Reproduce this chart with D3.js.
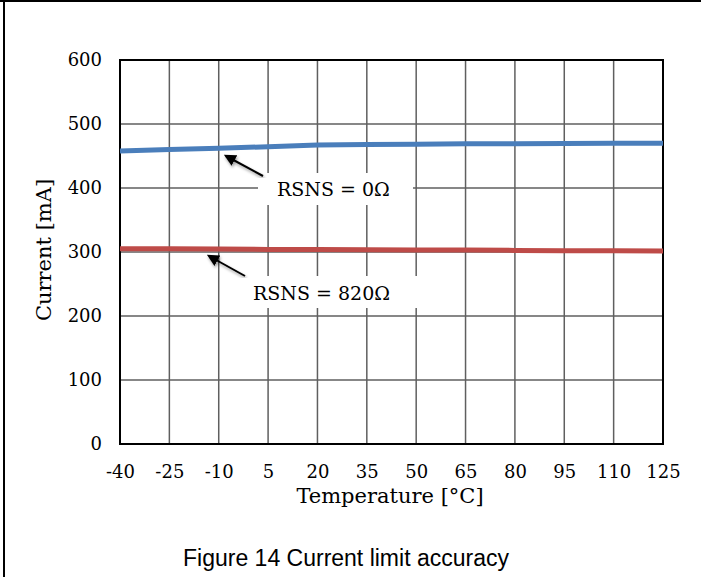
<!DOCTYPE html>
<html>
<head>
<meta charset="utf-8">
<script src="https://cdn.jsdelivr.net/npm/d3@7"></script>
<style>
    body { margin: 0; background: #fff; }
    svg { display: block; }
</style>
</head>
<body>
<div id="myChart"></div>
<script>
const temps = [-40, -25, -10, 5, 20, 35, 50, 65, 80, 95, 110, 125];
const rsns0 = [458, 460, 462, 464.5, 467, 468, 468.5, 469, 469, 469.5, 470, 470];
const rsns820 = [305, 305, 304.5, 304, 304, 303.5, 303, 303, 302.5, 302, 302, 301.5];
const yTicks = [0, 100, 200, 300, 400, 500, 600];
const notes = ["RSNS = 0\u03A9", "RSNS = 820\u03A9"];

const size = {
    width: 701,
    height: 577,
    plot: { left: 120, right: 663, top: 60, bottom: 444 }
};

const serif = "'DejaVu Serif', 'Liberation Serif', serif";

const drawChart = function(size) {
    const svg = d3.select("#myChart")
        .append("svg")
        .attr("width", size.width)
        .attr("height", size.height);

    // frame of the figure cell (top and left only)
    svg.append("line").attr("x1", 0).attr("x2", size.width).attr("y1", 1).attr("y2", 1)
        .attr("stroke", "#000").attr("stroke-width", 2);
    svg.append("line").attr("x1", 4).attr("x2", 4).attr("y1", 0).attr("y2", size.height)
        .attr("stroke", "#000").attr("stroke-width", 2);

    const x = d3.scaleLinear().domain([-40, 125]).range([size.plot.left, size.plot.right]);
    const y = d3.scaleLinear().domain([0, 600]).range([size.plot.bottom, size.plot.top]);

    // gridlines
    svg.append("g")
        .selectAll("line")
        .data(temps)
        .enter().append("line")
        .attr("x1", d => x(d)).attr("x2", d => x(d))
        .attr("y1", size.plot.top).attr("y2", size.plot.bottom)
        .attr("stroke", "#5f5f5f").attr("stroke-width", 1.5);
    svg.append("g")
        .selectAll("line")
        .data(yTicks)
        .enter().append("line")
        .attr("x1", size.plot.left).attr("x2", size.plot.right)
        .attr("y1", d => y(d)).attr("y2", d => y(d))
        .attr("stroke", "#5f5f5f").attr("stroke-width", 1.5);

    // tick labels
    const xAxis = svg.append("g")
        .attr("transform", `translate(0, ${size.plot.bottom})`)
        .call(d3.axisBottom(x).tickValues(temps).tickSize(0).tickPadding(21)
            .tickFormat(d => String(d)));
    const yAxis = svg.append("g")
        .attr("transform", `translate(${size.plot.left}, 0)`)
        .call(d3.axisLeft(y).tickValues(yTicks).tickSize(0).tickPadding(18)
            .tickFormat(d => String(d)));
    [xAxis, yAxis].forEach(a => {
        a.select(".domain").remove();
        a.attr("font-family", serif).attr("font-size", 18);
        a.selectAll("text").attr("fill", "#000");
    });

    // plot border
    svg.append("rect")
        .attr("x", size.plot.left).attr("y", size.plot.top)
        .attr("width", size.plot.right - size.plot.left)
        .attr("height", size.plot.bottom - size.plot.top)
        .attr("fill", "none").attr("stroke", "#000").attr("stroke-width", 2);

    const line = d3.line().x((d, i) => x(temps[i])).y(d => y(d));
    svg.append("path").datum(rsns0).attr("d", line)
        .attr("fill", "none").attr("stroke", "#4a7ebb").attr("stroke-width", 5);
    svg.append("path").datum(rsns820).attr("d", line)
        .attr("fill", "none").attr("stroke", "#be4b48").attr("stroke-width", 5);

    // annotations
    const defs = svg.append("defs");
    defs.append("marker").attr("id", "head")
        .attr("viewBox", "0 0 10 10").attr("refX", 8).attr("refY", 5)
        .attr("markerWidth", 6).attr("markerHeight", 6).attr("orient", "auto")
        .append("path").attr("d", "M0,0 L10,5 L0,10 Z").attr("fill", "#000");
    const shadow = defs.append("filter").attr("id", "shadow");
    shadow.append("feDropShadow").attr("dx", 1).attr("dy", 2).attr("stdDeviation", 1.5)
        .attr("flood-opacity", 0.4);

    const boxes = [
        { x: 258, y: 173, w: 155, h: 32, tx: 277, ty: 196, ax1: 263, ay1: 176, ax2: 226, ay2: 156 },
        { x: 243, y: 276, w: 177, h: 32, tx: 253, ty: 300, ax1: 245, ay1: 276, ax2: 209, ay2: 256 }
    ];
    notes.forEach((n, i) => {
        const b = boxes[i];
        svg.append("rect").attr("x", b.x).attr("y", b.y).attr("width", b.w).attr("height", b.h)
            .attr("fill", "#fff");
        svg.append("text").attr("x", b.tx).attr("y", b.ty)
            .attr("font-family", serif)
            .attr("font-size", 19).text(n);
        svg.append("line")
            .attr("x1", b.ax1).attr("y1", b.ay1).attr("x2", b.ax2).attr("y2", b.ay2)
            .attr("stroke", "#000").attr("stroke-width", 2)
            .attr("marker-end", "url(#head)").attr("filter", "url(#shadow)");
    });

    // axis titles
    svg.append("text")
        .attr("x", 390).attr("y", 503)
        .attr("text-anchor", "middle")
        .attr("font-family", serif)
        .attr("font-size", 21).text("Temperature [\u00B0C]");
    svg.append("text")
        .attr("transform", `translate(51, 250) rotate(-90)`)
        .attr("text-anchor", "middle")
        .attr("font-family", serif)
        .attr("font-size", 21).text("Current [mA]");

    // caption
    svg.append("text")
        .attr("x", 346).attr("y", 566)
        .attr("text-anchor", "middle")
        .attr("font-family", "'Liberation Sans', Arial, sans-serif")
        .attr("font-size", 23).text("Figure 14 Current limit accuracy");
};

window.onload = () => {
    drawChart(size);
};
</script>
</body>
</html>
